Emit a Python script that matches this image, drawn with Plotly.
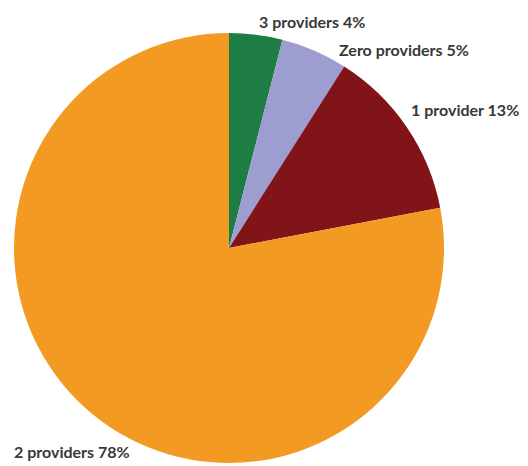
import plotly.graph_objects as go

labels = ["3 providers", "Zero providers", "1 provider", "2 providers"]
values = [4, 5, 13, 78]
colors = ["#1E7D45", "#9E9DD1", "#801418", "#F39A22"]

# label anchor positions (page pixels)
label_pos = [(312, 21), (404, 50), (465, 110), (72, 451)]

OFF = 8  # page body margin
W, H = 528 - OFF, 466 - OFF
cx, cy, r = 229 - OFF, 248 - OFF, 215

fig = go.Figure(go.Pie(
    labels=labels, values=values, sort=False, direction="clockwise", rotation=0,
    marker=dict(colors=colors, line=dict(width=0)),
    textinfo="none", hoverinfo="label+percent", showlegend=False,
    domain=dict(x=[(cx - r) / W, (cx + r) / W], y=[(H - (cy + r)) / H, (H - (cy - r)) / H]),
))

for lab, val, (px, py) in zip(labels, values, label_pos):
    fig.add_annotation(x=(px - OFF) / W, y=1 - (py - OFF) / H, xref="paper", yref="paper",
                       text=f"<b>{lab} {val}%</b>", showarrow=False,
                       font=dict(family="Lato", size=16, color="#383838"),
                       xanchor="center", yanchor="middle")

fig.update_layout(width=W, height=H, margin=dict(l=0, r=0, t=0, b=0),
                  paper_bgcolor="white", plot_bgcolor="white")
fig.write_html("out.html")
